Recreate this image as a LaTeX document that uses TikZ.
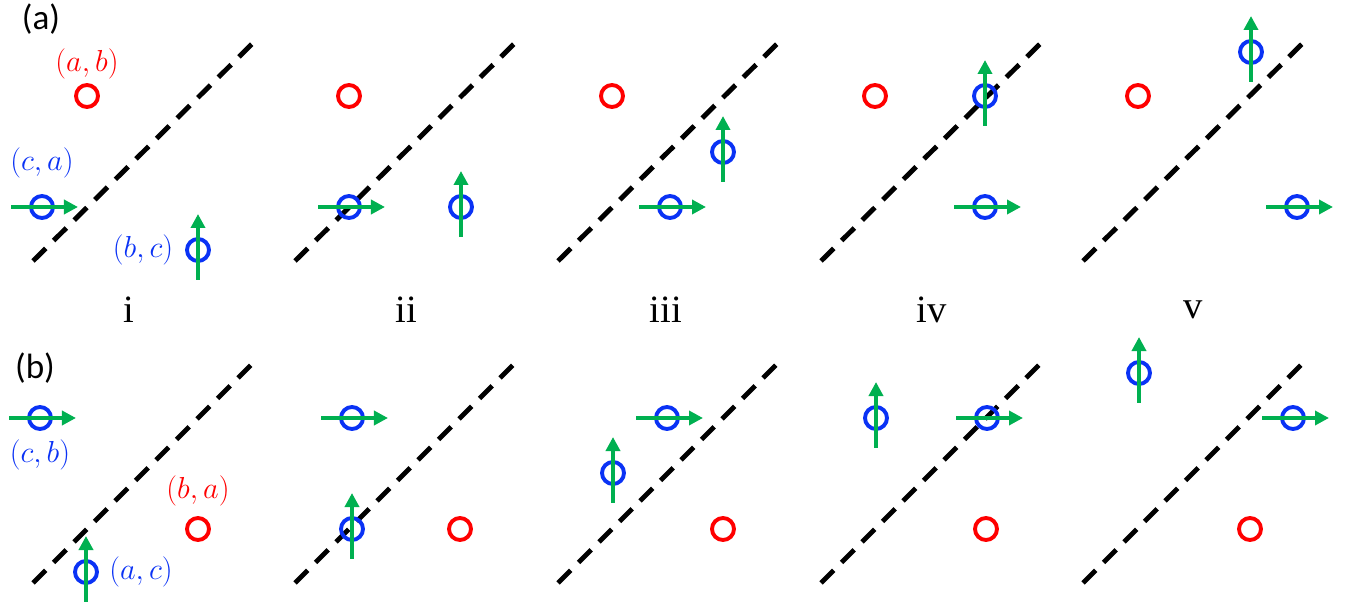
\documentclass[tikz,border=0pt]{standalone}
\usepackage{fontspec}
\newfontfamily\romfont{Liberation Serif}
\newfontfamily\tagfont{Carlito}
\usepackage{tikz}
\usetikzlibrary{arrows.meta}
\definecolor{ptRed}{RGB}{255,0,0}
\definecolor{ptBlue}{RGB}{10,50,245}
\definecolor{arGreen}{RGB}{0,176,80}

\begin{document}
\begin{tikzpicture}[
    x=0.02cm, y=-0.02cm,
    pt/.style={circle, line width=2.2pt, minimum size=0.44cm, inner sep=0pt},
    rd/.style={pt, draw=ptRed},
    bl/.style={pt, draw=ptBlue},
    ar/.style={-{Triangle[length=0.28cm, width=0.28cm]}, line width=2.2pt, arGreen},
    cut/.style={line width=2.8pt, dash pattern=on 0.36cm off 0.22cm},
    lbl/.style={font=\fontsize{18}{21}\selectfont, inner sep=0pt},
    num/.style={font=\romfont\fontsize{22}{26}\selectfont, inner sep=0pt},
    tag/.style={font=\tagfont\fontsize{20}{24}\selectfont, inner sep=0pt},
  ]
    \useasboundingbox (0,0) rectangle (1353,614);

    % (a) row
    \node[tag] (ta) at (41,19) {(a)};
    \begin{scope}
      \draw[cut] (33,261) -- (254,42);
      \node[rd] (ab1) at (87,96) {};
      \node[bl] (ca1) at (42,207) {};
      \node[bl] (bc1) at (198,250) {};
      \draw[ar] ([xshift=-0.62cm]ca1.center) -- ([xshift=0.72cm]ca1.center);
      \draw[ar] ([yshift=-0.6cm]bc1.center) -- ([yshift=0.72cm]bc1.center);
      \node[lbl, text=ptRed] (lab) at ([yshift=0.64cm]ab1.center) {$(a,b)$};
      \node[lbl, text=ptBlue] (lca) at ([yshift=0.88cm]ca1.center) {$(c,a)$};
      \node[lbl, text=ptBlue] (lbc) at ([xshift=-1.1cm]bc1.center) {$(b,c)$};
    \end{scope}
    \begin{scope}[shift={(262,0)}]
      \draw[cut] (33,261) -- (254,42);
      \node[rd] (ab2) at (87,96) {};
      \node[bl] (ca2) at (87,207) {};
      \node[bl] (bc2) at (199,207) {};
      \draw[ar] ([xshift=-0.62cm]ca2.center) -- ([xshift=0.72cm]ca2.center);
      \draw[ar] ([yshift=-0.6cm]bc2.center) -- ([yshift=0.72cm]bc2.center);
    \end{scope}
    \begin{scope}[shift={(525,0)}]
      \draw[cut] (33,261) -- (254,42);
      \node[rd] (ab3) at (87,96) {};
      \node[bl] (ca3) at (145,207) {};
      \node[bl] (bc3) at (198,152) {};
      \draw[ar] ([xshift=-0.62cm]ca3.center) -- ([xshift=0.72cm]ca3.center);
      \draw[ar] ([yshift=-0.6cm]bc3.center) -- ([yshift=0.72cm]bc3.center);
    \end{scope}
    \begin{scope}[shift={(788,0)}]
      \draw[cut] (33,261) -- (254,42);
      \node[rd] (ab4) at (87,96) {};
      \node[bl] (ca4) at (197,207) {};
      \node[bl] (bc4) at (197,96) {};
      \draw[ar] ([xshift=-0.62cm]ca4.center) -- ([xshift=0.72cm]ca4.center);
      \draw[ar] ([yshift=-0.6cm]bc4.center) -- ([yshift=0.72cm]bc4.center);
    \end{scope}
    \begin{scope}[shift={(1050,0)}]
      \draw[cut] (33,261) -- (254,42);
      \node[rd] (ab5) at (88,96) {};
      \node[bl] (ca5) at (247,207) {};
      \node[bl] (bc5) at (201,52) {};
      \draw[ar] ([xshift=-0.62cm]ca5.center) -- ([xshift=0.72cm]ca5.center);
      \draw[ar] ([yshift=-0.6cm]bc5.center) -- ([yshift=0.72cm]bc5.center);
    \end{scope}

    % step names
    \node[num] (n1) at (129,310) {i};
    \node[num] (n2) at (406,310) {ii};
    \node[num] (n3) at (666,310) {iii};
    \node[num] (n4) at (932,310) {iv};
    \node[num] (n5) at (1193,310) {v};

    % (b) row
    \node[tag] (tb) at (35,368) {(b)};
    \begin{scope}
      \draw[cut] (33,583) -- (253,363);
      \node[rd] (ba1) at (198,529) {};
      \node[bl] (cb1) at (40,418) {};
      \node[bl] (ac1) at (86,572) {};
      \draw[ar] ([xshift=-0.62cm]cb1.center) -- ([xshift=0.72cm]cb1.center);
      \draw[ar] ([yshift=-0.6cm]ac1.center) -- ([yshift=0.72cm]ac1.center);
      \node[lbl, text=ptBlue] (lcb) at ([yshift=-0.74cm]cb1.center) {$(c,b)$};
      \node[lbl, text=ptRed] (lba) at ([yshift=0.76cm]ba1.center) {$(b,a)$};
      \node[lbl, text=ptBlue] (lac) at ([xshift=1.1cm]ac1.center) {$(a,c)$};
    \end{scope}
    \begin{scope}[shift={(262,0)}]
      \draw[cut] (33,583) -- (253,363);
      \node[rd] (ba2) at (198,529) {};
      \node[bl] (cb2) at (90,418) {};
      \node[bl] (ac2) at (90,529) {};
      \draw[ar] ([xshift=-0.62cm]cb2.center) -- ([xshift=0.72cm]cb2.center);
      \draw[ar] ([yshift=-0.6cm]ac2.center) -- ([yshift=0.72cm]ac2.center);
    \end{scope}
    \begin{scope}[shift={(525,0)}]
      \draw[cut] (33,583) -- (253,363);
      \node[rd] (ba3) at (198,529) {};
      \node[bl] (cb3) at (142,418) {};
      \node[bl] (ac3) at (88,473) {};
      \draw[ar] ([xshift=-0.62cm]cb3.center) -- ([xshift=0.72cm]cb3.center);
      \draw[ar] ([yshift=-0.6cm]ac3.center) -- ([yshift=0.72cm]ac3.center);
    \end{scope}
    \begin{scope}[shift={(788,0)}]
      \draw[cut] (33,583) -- (253,363);
      \node[rd] (ba4) at (198,529) {};
      \node[bl] (cb4) at (199,418) {};
      \node[bl] (ac4) at (88,418) {};
      \draw[ar] ([xshift=-0.62cm]cb4.center) -- ([xshift=0.72cm]cb4.center);
      \draw[ar] ([yshift=-0.6cm]ac4.center) -- ([yshift=0.72cm]ac4.center);
    \end{scope}
    \begin{scope}[shift={(1050,0)}]
      \draw[cut] (33,583) -- (253,363);
      \node[rd] (ba5) at (200,529) {};
      \node[bl] (cb5) at (243,418) {};
      \node[bl] (ac5) at (89,373) {};
      \draw[ar] ([xshift=-0.62cm]cb5.center) -- ([xshift=0.72cm]cb5.center);
      \draw[ar] ([yshift=-0.6cm]ac5.center) -- ([yshift=0.72cm]ac5.center);
    \end{scope}
  \end{tikzpicture}
\end{document}
